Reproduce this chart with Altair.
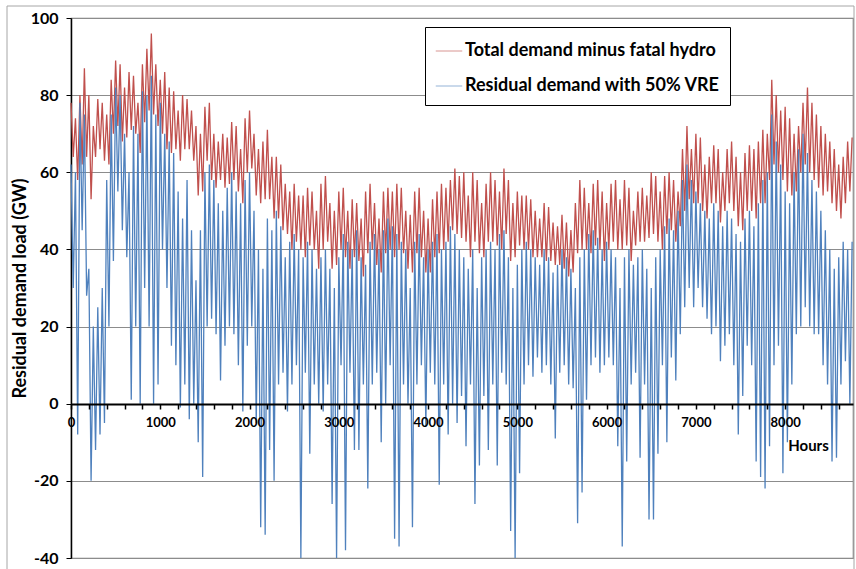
import altair as alt
import pandas as pd

# Daily-scale envelope readings (GW). *_hi at hours 0,50,...; *_lo at hours 25,75,...
red_hi = [
    78, 74, 80, 87, 80, 72, 79, 78, 75, 84, 89, 88, 82, 86, 85, 78, 88, 92, 96, 88,
    84, 86, 82, 81, 76, 80, 79, 76, 72, 70, 77, 78, 70, 68, 70, 69, 73, 72, 66, 74,
    76, 70, 66, 68, 71, 64, 64, 62, 57, 55, 57, 54, 54, 56, 55, 50, 57, 59, 52, 50,
    55, 56, 50, 53, 52, 48, 55, 57, 52, 48, 55, 56, 55, 57, 56, 50, 49, 55, 56, 50,
    48, 53, 55, 57, 56, 58, 61, 59, 60, 54, 60, 58, 52, 57, 60, 58, 55, 61, 58, 52,
    55, 54, 54, 53, 50, 48, 52, 51, 47, 46, 49, 47, 45, 52, 58, 56, 52, 57, 58, 55,
    52, 57, 58, 53, 58, 56, 50, 55, 56, 54, 60, 59, 55, 59, 60, 58, 55, 66, 72, 66,
    70, 69, 62, 64, 67, 66, 60, 66, 68, 64, 60, 65, 67, 66, 68, 71, 70, 84, 80, 76,
    77, 74, 70, 72, 78, 82, 78, 75, 72, 70, 68, 66, 62, 64, 68, 69,
]
red_lo = [
    64, 58, 62, 64, 53, 64, 66, 63, 62, 70, 72, 68, 69, 71, 70, 65, 73, 76, 75, 72,
    70, 66, 65, 66, 63, 66, 66, 63, 54, 55, 63, 58, 56, 58, 56, 57, 58, 55, 52, 60,
    61, 54, 52, 53, 53, 48, 48, 45, 44, 40, 42, 40, 38, 41, 40, 35, 40, 42, 35, 36,
    40, 38, 35, 38, 37, 33, 39, 40, 36, 34, 39, 40, 38, 40, 39, 35, 34, 39, 38, 34,
    34, 38, 39, 40, 42, 45, 44, 43, 42, 38, 42, 39, 38, 42, 42, 41, 40, 44, 37, 38,
    41, 40, 40, 38, 38, 38, 37, 37, 36, 36, 35, 33, 34, 39, 40, 40, 39, 41, 40, 37,
    40, 42, 40, 40, 41, 37, 41, 42, 42, 43, 44, 42, 40, 44, 45, 42, 46, 50, 53, 52,
    52, 50, 48, 52, 52, 47, 50, 52, 50, 46, 45, 50, 50, 48, 52, 52, 58, 62, 60, 58,
    55, 54, 55, 60, 62, 60, 58, 56, 54, 55, 52, 50, 48, 52, 55,
]
blue_hi = [
    62, 60, 78, 75, 35, 20, 25, 30, 58, 75, 82, 80, 70, 60, 72, 70, 81, 80, 85, 75,
    78, 70, 68, 65, 55, 48, 58, 45, 32, 45, 60, 62, 58, 52, 50, 56, 60, 55, 52, 58,
    60, 50, 40, 35, 48, 45, 50, 46, 38, 42, 44, 40, 38, 42, 40, 35, 38, 40, 35, 30,
    38, 44, 42, 40, 45, 38, 36, 42, 44, 40, 45, 48, 46, 44, 42, 40, 30, 42, 44, 38,
    40, 42, 44, 40, 42, 46, 44, 40, 38, 35, 40, 30, 38, 40, 42, 40, 44, 45, 38, 30,
    36, 40, 42, 40, 38, 36, 40, 38, 34, 36, 40, 38, 35, 30, 38, 40, 44, 45, 43, 40,
    42, 40, 38, 30, 38, 40, 36, 38, 40, 35, 30, 38, 40, 46, 48, 45, 50, 58, 62, 58,
    55, 52, 50, 48, 52, 50, 46, 50, 48, 44, 42, 48, 50, 46, 52, 58, 60, 75, 68, 62,
    55, 52, 60, 66, 70, 65, 58, 55, 50, 45, 40, 35, 38, 42, 40, 42,
]
blue_lo = [
    30, -8, 45, 28, -20, -12, -8, -5, 20, 37, 55, 45, 38, 1, 20, 0, 30, 20, 0, 5,
    40, 30, 15, 10, -1, 5, -4, 0, -10, -19, 20, 22, 18, 6, 15, 20, 18, 10, -2, 15,
    20, -5, -32, -34, -12, -20, 5, 8, -2, 5, 10, -40, 8, -13, 5, 0, -2, 5, -26, -40,
    10, -38, 8, -12, -12, 5, -22, 5, 8, -10, 0, 10, -35, -37, 5, 0, -32, 5, 10, -6,
    8, 5, -21, 5, -8, 0, -5, 2, -11, 5, -26, -16, 2, -12, 5, -16, 8, 5, -33, -40,
    -18, 5, 10, 7, 12, 8, 10, 5, -9, 8, 10, 5, 4, -31, -23, 1, 10, 12, 8, 10,
    12, 10, -11, -37, -15, 5, 8, -14, 5, -30, -30, -13, 10, -10, 12, 6, 18, 25, 30, 25,
    30, 25, 22, 18, 20, 11, 15, 18, 10, -8, 2, 15, 10, -15, -19, -22, -11, 10, 15, -18,
    -10, 5, 18, 20, 25, 20, 18, 18, 10, 5, -15, -14, 5, 11, 0,
]
x_ticks = list(range(0, 8761, 200))
y_ticks = [-40, -20, 0, 20, 40, 60, 80, 100]
NAME_RED = "Total demand minus fatal hydro"
NAME_BLUE = "Residual demand with 50% VRE"


def zigzag(hi, lo, name):
    rows = [(50 * i, v) for i, v in enumerate(hi)] + [(25 + 50 * i, v) for i, v in enumerate(lo)]
    rows.sort()
    return pd.DataFrame({"hour": [r[0] for r in rows], "gw": [r[1] for r in rows], "series": name})


df = pd.concat([zigzag(red_hi, red_lo, NAME_RED), zigzag(blue_hi, blue_lo, NAME_BLUE)], ignore_index=True)

FONT = "Lato"

color = alt.Color(
    "series:N",
    scale=alt.Scale(domain=[NAME_RED, NAME_BLUE], range=["#C0504D", "#4F81BD"]),
    legend=alt.Legend(
        title=None, orient="none", legendX=354, legendY=9, direction="vertical",
        fillColor="white", strokeColor="black", padding=10,
        symbolType="stroke", symbolSize=700, symbolStrokeWidth=1, symbolOpacity=0.6,
        labelFont=FONT, labelFontSize=18, labelFontWeight="bold", labelColor="black",
        rowPadding=12, labelOffset=2, labelLimit=400,
    ),
)

x = alt.X(
    "hour:Q",
    scale=alt.Scale(domain=[0, 8760], nice=False, zero=False),
    axis=alt.Axis(
        values=x_ticks,
        labelExpr="datum.value % 1000 == 0 ? format(datum.value, 'd') : ''",
        offset=-154, grid=False, zindex=1,
        domainColor="black", domainWidth=2, tickColor="black", tickSize=5, tickWidth=1.5,
        labelFont=FONT, labelFontSize=13, labelFontWeight="bold", labelColor="black",
        labelPadding=7, labelFlush=False, labelOverlap=False,
        title="Hours", titleFont=FONT, titleFontSize=15, titleFontWeight="bold", titleColor="black",
        titleX=737, titleY=41, titleAlign="center", titleBaseline="middle",
    ),
)

y = alt.Y(
    "gw:Q",
    scale=alt.Scale(domain=[-40, 100], nice=False, zero=False),
    axis=alt.Axis(
        values=y_ticks, grid=True, gridColor="#8C8C8C", gridWidth=1,
        labelExpr="datum.value < 0 ? '-' + format(-datum.value, 'd') : format(datum.value, 'd')",
        domainColor="black", domainWidth=1.5, tickColor="black", tickSize=5,
        labelFont=FONT, labelFontSize=16, labelFontWeight="bold", labelColor="black", labelPadding=8,
        title="Residual demand load (GW)", titleFont=FONT, titleFontSize=18, titleFontWeight="bold",
        titleColor="black", titlePadding=1,
    ),
)

base = alt.Chart(df).encode(x=x, y=y, color=color)
red = base.transform_filter(alt.datum.series == NAME_RED).mark_line(strokeWidth=1.3)
blue = base.transform_filter(alt.datum.series == NAME_BLUE).mark_line(strokeWidth=1.3)

frame = alt.Chart(pd.DataFrame({"k": [0]})).mark_rect(
    fillOpacity=0, stroke="#A6A6A6", strokeWidth=1
).encode(x=alt.value(-64), x2=alt.value(783), y=alt.value(-12), y2=alt.value(575))

chart = alt.layer(frame, red, blue).properties(
    width=782, height=540, autosize="none",
    padding={"left": 71, "top": 18, "right": 3, "bottom": 11},
    background="white",
).configure_view(stroke="#7F7F7F", strokeWidth=1.2)

chart.save("out.html", embed_options={"renderer": "svg", "actions": False})
